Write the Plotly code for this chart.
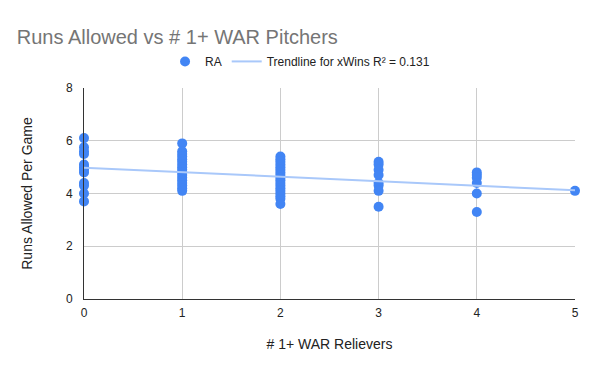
import numpy as np
import plotly.graph_objects as go

relievers_0 = [6.1, 5.75, 5.6, 5.5, 5.1, 5.0, 4.9, 4.8, 4.4, 4.3, 4.0, 3.7]
relievers_1 = [5.9, 5.6, 5.5, 5.4, 5.3, 5.2, 5.1, 5.0, 4.9, 4.8, 4.7, 4.6, 4.5, 4.4, 4.3, 4.2, 4.1]
relievers_2 = [5.4, 5.3, 5.2, 5.1, 5.0, 4.9, 4.8, 4.7, 4.6, 4.5, 4.4, 4.3, 4.2, 4.1, 4.0, 3.9, 3.8, 3.6]
relievers_3 = [5.2, 5.1, 4.9, 4.7, 4.4, 4.3, 4.1, 3.5]
relievers_4 = [4.8, 4.7, 4.6, 4.4, 4.0, 3.3]
relievers_5 = [4.1]

groups = [relievers_0, relievers_1, relievers_2, relievers_3, relievers_4, relievers_5]
x_vals = []
y_vals = []
for k, g in enumerate(groups):
    x_vals += [k] * len(g)
    y_vals += g

slope, intercept = np.polyfit(x_vals, y_vals, 1)
tx = [0, 5]
ty = [intercept + slope * v for v in tx]

fig = go.Figure()
fig.add_trace(go.Scatter(x=x_vals, y=y_vals, mode="markers", name="RA",
                         marker=dict(color="#4285F4", size=10), cliponaxis=False))
fig.add_trace(go.Scatter(x=tx, y=ty, mode="lines", name="Trendline for xWins R² = 0.131",
                         line=dict(color="#A9C8FA", width=2)))

fig.update_layout(
    width=600, height=371,
    paper_bgcolor="white", plot_bgcolor="white",
    margin=dict(l=84, r=25, t=88, b=72),
    font=dict(family="Arial, Liberation Sans", color="#222222", size=12),
    title=dict(text="Runs Allowed vs # 1+ WAR Pitchers", x=0.028, xanchor="left",
               y=0.9, yanchor="middle", font=dict(size=20, color="#757575")),
    legend=dict(orientation="h", x=0.44, xanchor="center", y=1.126, yanchor="middle",
                font=dict(size=12, color="#222222"), itemwidth=30),
    xaxis=dict(range=[0, 5], dtick=1, showgrid=True, gridcolor="#cccccc",
               zeroline=False, showline=True, linecolor="#333333", automargin=False,
               ticklabelstandoff=3,
               title=dict(text="# 1+ WAR Relievers", standoff=19), ticks=""),
    yaxis=dict(range=[0, 8], dtick=2, showgrid=True, gridcolor="#cccccc",
               zeroline=False, showline=True, linecolor="#333333", automargin=False,
               ticklabelstandoff=8,
               title=dict(text="Runs Allowed Per Game", standoff=30), ticks=""),
)
fig.write_html("out.html", post_script="document.body.style.margin='0';",
               config={"displayModeBar": False})
